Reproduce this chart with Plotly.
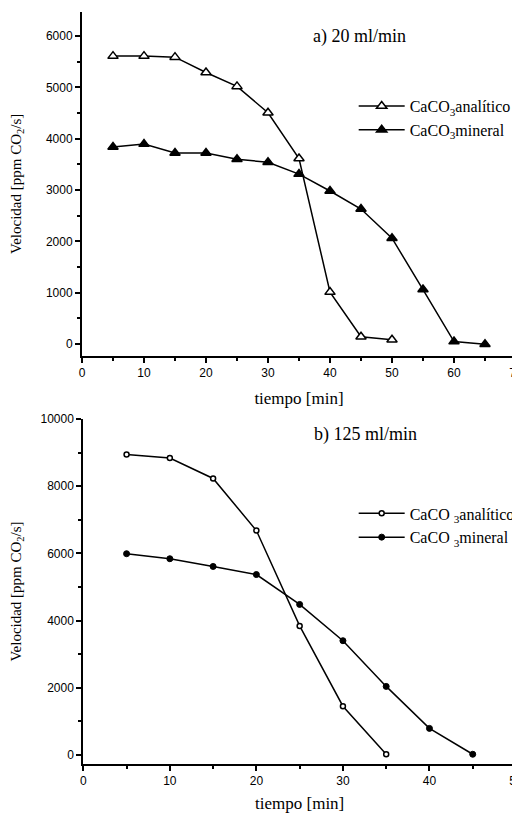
import plotly.graph_objects as go
from plotly.subplots import make_subplots

# ---- data ----
t_a = [5, 10, 15, 20, 25, 30, 35, 40, 45, 50]
v_a_anal = [5610, 5610, 5590, 5290, 5020, 4505, 3615, 1010, 140, 80]
t_a_min = [5, 10, 15, 20, 25, 30, 35, 40, 45, 50, 55, 60, 65]
v_a_min = [3840, 3895, 3720, 3720, 3600, 3540, 3310, 2980, 2630, 2060, 1060, 45, -5]

t_b = [5, 10, 15, 20, 25, 30, 35]
v_b_anal = [8940, 8840, 8230, 6680, 3840, 1450, 20]
t_b_min = [5, 10, 15, 20, 25, 30, 35, 40, 45]
v_b_min = [5990, 5840, 5610, 5370, 4480, 3400, 2040, 790, 20]

names_a = ["CaCO<sub>3</sub>analítico", "CaCO<sub>3</sub>mineral"]
names_b = ["CaCO <sub>3</sub>analítico", "CaCO <sub>3</sub>mineral"]
title_a = "a) 20 ml/min"
title_b = "b) 125 ml/min"
xlab = "tiempo [min]"
ylab = "Velocidad [ppm CO<sub>2</sub>/s]"

SERIF = "Liberation Serif, Times New Roman, serif"
SANS = "Liberation Sans, Arial, sans-serif"

fig = make_subplots(rows=2, cols=1)

line = dict(color="black", width=1.5)
fig.add_trace(go.Scatter(x=t_a, y=v_a_anal, mode="lines+markers", name=names_a[0],
                         line=line, legend="legend",
                         marker=dict(symbol="triangle-up", size=9, color="white",
                                     line=dict(color="black", width=1.5))), row=1, col=1)
fig.add_trace(go.Scatter(x=t_a_min, y=v_a_min, mode="lines+markers", name=names_a[1],
                         line=line, legend="legend",
                         marker=dict(symbol="triangle-up", size=9, color="black",
                                     line=dict(color="black", width=1.5))), row=1, col=1)
fig.add_trace(go.Scatter(x=t_b, y=v_b_anal, mode="lines+markers", name=names_b[0],
                         line=line, legend="legend2",
                         marker=dict(symbol="circle", size=5, color="white",
                                     line=dict(color="black", width=1.5))), row=2, col=1)
fig.add_trace(go.Scatter(x=t_b_min, y=v_b_min, mode="lines+markers", name=names_b[1],
                         line=line, legend="legend2",
                         marker=dict(symbol="circle", size=6, color="black",
                                     line=dict(color="black", width=1))), row=2, col=1)

axis_common = dict(showline=True, linecolor="black", linewidth=2, showgrid=False,
                   zeroline=False, ticks="outside", ticklen=5, tickwidth=1.5,
                   tickcolor="black", tickfont=dict(family=SANS, size=12, color="black"),
                   tickformat="d", automargin=False)

fig.update_xaxes(**axis_common)
fig.update_yaxes(**axis_common)

minor_x = dict(dtick=5, ticklen=3, ticks="outside", tickwidth=1.5, tickcolor="black")
fig.update_xaxes(range=[0, 70], dtick=10, tick0=0, domain=[0, 1], minor=minor_x,
                 title=dict(text=xlab, font=dict(family=SERIF, size=17, color="black"), standoff=13),
                 row=1, col=1)
fig.update_xaxes(range=[0, 50], dtick=10, tick0=0, domain=[0.003, 1], minor=minor_x,
                 title=dict(text=xlab, font=dict(family=SERIF, size=17, color="black"), standoff=15),
                 row=2, col=1)
fig.update_yaxes(range=[-230, 6470], dtick=1000, tick0=0, domain=[0.56406, 0.99748],
                 minor=dict(dtick=500, ticklen=3, ticks="outside", tickwidth=1.5, tickcolor="black"),
                 title=dict(text=ylab, font=dict(family=SERIF, size=15, color="black"), standoff=27),
                 row=1, col=1)
fig.update_yaxes(range=[-270, 10000], dtick=2000, tick0=0, domain=[0.04918, 0.48424],
                 minor=dict(dtick=1000, ticklen=3, ticks="outside", tickwidth=1.5, tickcolor="black"),
                 title=dict(text=ylab, font=dict(family=SERIF, size=15, color="black"), standoff=27),
                 row=2, col=1)

fig.add_annotation(text=title_a, xref="paper", yref="paper", x=0.639, y=0.9672,
                   xanchor="center", yanchor="middle",
                   showarrow=False, font=dict(family=SERIF, size=18, color="black"))
fig.add_annotation(text=title_b, xref="paper", yref="paper", x=0.654, y=0.4641,
                   xanchor="center", yanchor="middle",
                   showarrow=False, font=dict(family=SERIF, size=18, color="black"))

leg = dict(font=dict(family=SERIF, size=16, color="black"), itemwidth=46,
           bgcolor="rgba(0,0,0,0)", borderwidth=0, xanchor="left", yanchor="top",
           tracegroupgap=0)
# page body adds an 8px offset; the figure is wider than the window so the
# right edge is clipped exactly as in the reference (legend text, "70" label)
fig.update_layout(
    width=540, height=805,
    margin=dict(l=74, r=32, t=2, b=10),
    plot_bgcolor="white", paper_bgcolor="white",
    showlegend=True,
    legend=dict(x=0.626, y=0.9003, **leg),
    legend2=dict(x=0.626, y=0.3866, **leg),
)

fig.write_html("out.html")
